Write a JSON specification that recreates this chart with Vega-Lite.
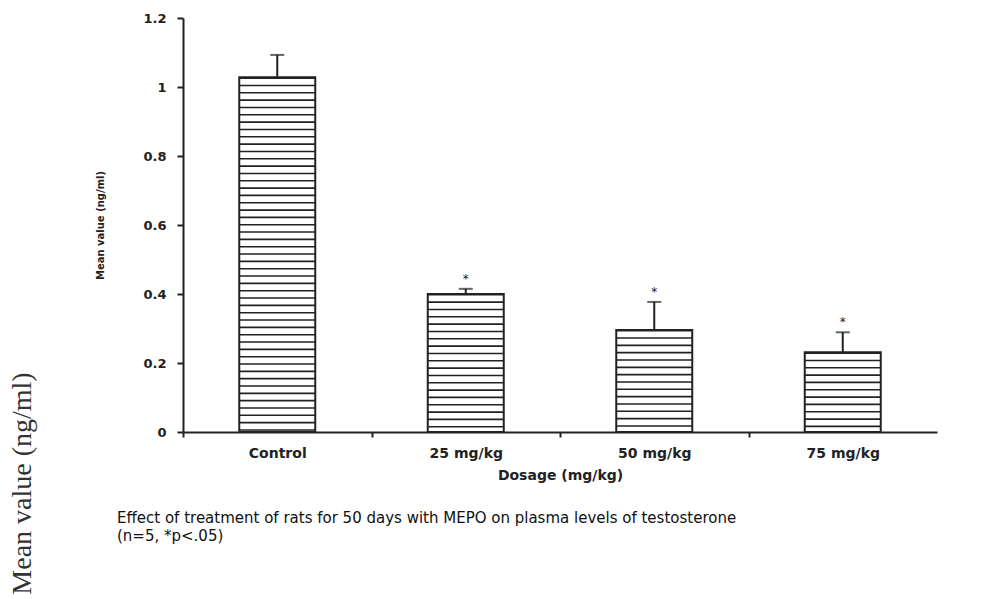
{
  "$schema": "https://vega.github.io/schema/vega-lite/v6.json",
  "width": 754,
  "height": 414,
  "autosize": {"type": "none"},
  "padding": {"left": 183, "top": 18, "right": 52, "bottom": 167},
  "background": "white",
  "config": {"view": {"stroke": null}, "axis": {"grid": false}},
  "title": {
    "text": ["Effect of treatment of rats for 50 days with MEPO on plasma levels of testosterone", "(n=5, *p<.05)"],
    "orient": "bottom",
    "anchor": "start",
    "frame": "group",
    "dx": -66,
    "offset": -83,
    "font": "DejaVu Sans",
    "fontSize": 15,
    "fontWeight": "normal",
    "color": "#111",
    "lineHeight": 18
  },
  "data": {
    "values": [
      {"dosage": "Control", "mean": 1.028, "upper": 1.093, "sig": ""},
      {"dosage": "25 mg/kg", "mean": 0.4, "upper": 0.415, "sig": "*"},
      {"dosage": "50 mg/kg", "mean": 0.296, "upper": 0.377, "sig": "*"},
      {"dosage": "75 mg/kg", "mean": 0.231, "upper": 0.289, "sig": "*"}
    ]
  },
  "encoding": {
    "x": {
      "field": "dosage",
      "type": "nominal",
      "sort": null,
      "scale": {"paddingInner": 0, "paddingOuter": 0},
      "axis": {
        "title": "Dosage (mg/kg)",
        "labelAngle": 0,
        "tickOffset": -94.25,
        "labelOffset": 94.25,
        "tickSize": 5,
        "tickWidth": 2,
        "tickColor": "#222",
        "domainColor": "#222",
        "domainWidth": 2,
        "labelFont": "DejaVu Sans",
        "labelFontSize": 14,
        "labelFontWeight": "bold",
        "labelColor": "#222",
        "labelPadding": 9,
        "titleFont": "DejaVu Sans",
        "titleFontSize": 14,
        "titleFontWeight": "bold",
        "titleColor": "#222",
        "titlePadding": 8
      }
    }
  },
  "layer": [
    {
      "encoding": {
        "y": {
          "field": "mean",
          "type": "quantitative",
          "scale": {"domain": [0, 1.2]},
          "axis": {
            "title": "Mean value (ng/ml)",
            "values": [0, 0.2, 0.4, 0.6, 0.8, 1, 1.2],
            "format": "~g",
            "tickSize": 6,
            "tickWidth": 2,
            "tickColor": "#222",
            "domainColor": "#222",
            "domainWidth": 2,
            "labelFont": "DejaVu Sans",
            "labelFontSize": 13,
            "labelFontWeight": "bold",
            "labelColor": "#222",
            "labelPadding": 11,
            "titleFont": "DejaVu Sans",
            "titleFontSize": 10,
            "titleFontWeight": "bold",
            "titleColor": "#222",
            "titleAngle": -90,
            "titleX": -83,
            "titleY": 207,
            "titleAlign": "center",
            "titleBaseline": "middle"
          }
        }
      },
      "layer": [
        {
          "mark": {"type": "rule", "strokeWidth": 76, "strokeCap": "butt", "strokeDash": [1.6, 5.73], "color": "#222"},
          "encoding": {"y2": {"datum": 0}}
        },
        {
          "mark": {"type": "bar", "size": 76, "fill": "white", "fillOpacity": 0, "stroke": "#222", "strokeWidth": 2}
        },
        {
          "mark": {"type": "tick", "size": 14, "thickness": 2, "color": "#222"},
          "encoding": {"y": {"field": "upper", "type": "quantitative"}}
        },
        {
          "mark": {"type": "text", "fontSize": 12, "dy": -10, "baseline": "middle", "color": "#222", "font": "DejaVu Sans"},
          "encoding": {"y": {"field": "upper", "type": "quantitative"}, "text": {"field": "sig"}}
        }
      ]
    },
    {
      "mark": {"type": "rule", "strokeWidth": 2, "color": "#222"},
      "encoding": {
        "y": {
          "field": "mean",
          "type": "quantitative",
          "scale": {"domain": [0, 1.2]},
          "axis": {
            "orient": "left",
            "title": "Mean value (ng/ml)",
            "domain": false,
            "ticks": false,
            "labels": false,
            "titleFont": "Liberation Serif",
            "titleFontSize": 28,
            "titleFontWeight": "normal",
            "titleColor": "#333",
            "titleAngle": -90,
            "titleX": -161,
            "titleY": 465,
            "titleAlign": "center",
            "titleBaseline": "middle"
          }
        },
        "y2": {"field": "upper"}
      }
    }
  ],
  "resolve": {"scale": {"y": "independent"}}
}
